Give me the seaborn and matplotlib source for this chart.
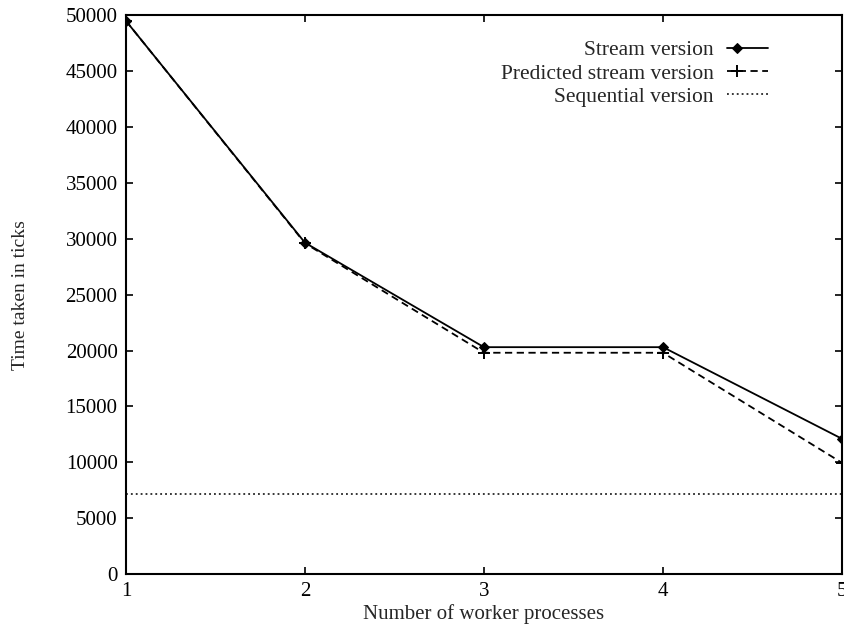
import numpy as np
import pandas as pd
import matplotlib
matplotlib.use('Agg')
import matplotlib.pyplot as plt
from matplotlib.legend_handler import HandlerLine2D
import seaborn as sns

# Dados
workers = [1, 2, 3, 4, 5]
stream_time = [49500, 29650, 20300, 20300, 12100]
predicted_time = [49500, 29600, 19800, 19800, 9950]
sequential_time = [7200, 7200, 7200, 7200, 7200]

df = pd.DataFrame({'workers': workers, 'stream': stream_time,
                   'predicted': predicted_time, 'sequential': sequential_time})


# marcador perto da ponta esquerda da amostra, como no gnuplot
class HandlerMarcadorEsq(HandlerLine2D):
    def create_artists(self, legend, orig_handle, xdescent, ydescent,
                       width, height, fontsize, trans):
        arts = super().create_artists(legend, orig_handle, xdescent, ydescent,
                                      width, height, fontsize, trans)
        for a in arts:
            x = a.get_xdata()
            y = a.get_ydata()
            if len(x) > 1:
                nx = np.linspace(x[0], x[-1], 5)
                a.set_data(nx, [y[0]] * 5)
                a.set_markevery([1])
        return arts


sns.set_style('ticks')
plt.rcParams['font.family'] = ['Liberation Serif', 'DejaVu Serif']
plt.rcParams['xtick.direction'] = 'in'
plt.rcParams['ytick.direction'] = 'in'

fig = plt.figure(figsize=(8.45, 6.35), dpi=100)
ax = fig.add_axes([0.149, 0.096, 0.8475, 0.88])

sns.lineplot(x='workers', y='stream', data=df, ax=ax, color='black', lw=1.3,
             marker='D', markersize=5, mec='black', mfc='black',
             label='Stream version')
sns.lineplot(x='workers', y='predicted', data=df, ax=ax, color='black', lw=1.3,
             marker='+', markersize=9, mew=1.4, mec='black',
             label='Predicted stream version')
ax.lines[-1].set_dashes([4, 2.5])
sns.lineplot(x='workers', y='sequential', data=df, ax=ax, color='black', lw=1.1,
             label='Sequential version')
ax.lines[-1].set_dashes([1.2, 2.0])

ax.set_xlim(1, 5)
ax.set_ylim(0, 50000)
ax.set_xticks(workers)
ax.set_yticks(range(0, 50001, 5000))
ax.tick_params(axis='both', which='both', top=True, right=True, length=5,
               width=1.2, labelsize=15, pad=6, colors='black')
for s in ax.spines.values():
    s.set_linewidth(1.5)
    s.set_color('black')

ax.set_xlabel('Number of worker processes', fontsize=15, labelpad=2)
ax.set_ylabel('Time taken in ticks', fontsize=14, labelpad=26)

leg = ax.legend(loc='upper right', bbox_to_anchor=(0.923, 0.99), frameon=False,
                markerfirst=False, fontsize=15.5, handlelength=1.9,
                handletextpad=0.6, labelspacing=0.15, alignment='right',
                numpoints=1, handler_map={matplotlib.lines.Line2D: HandlerMarcadorEsq()})
for t in leg.get_texts():
    t.set_ha('right')

plt.savefig('out.png', dpi=100)
